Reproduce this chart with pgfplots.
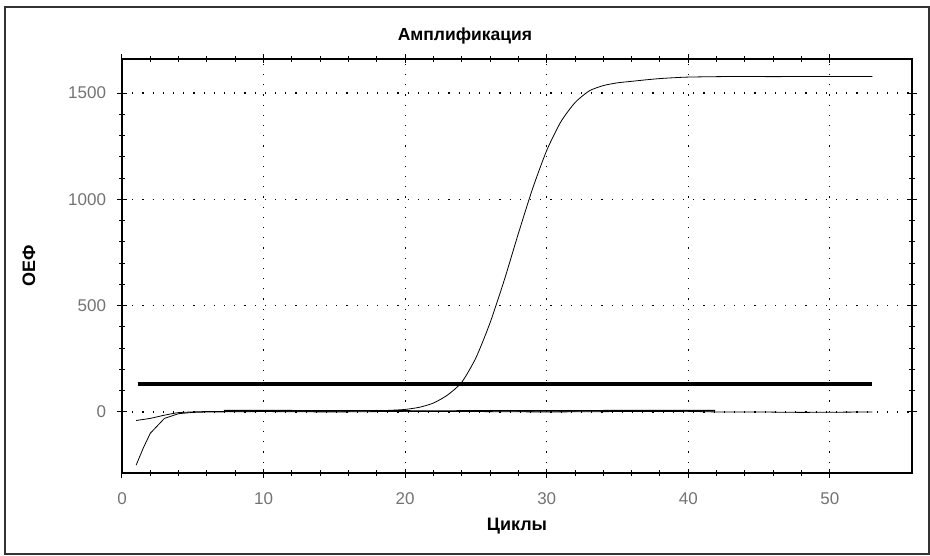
\documentclass[border=0pt]{standalone}
\usepackage{fontspec}
\setmainfont{Liberation Sans}
\usepackage{pgfplots}
\pgfplotsset{compat=1.18}
\begin{document}
\begin{tikzpicture}[x=1pt,y=1pt]
\useasboundingbox (0,0) rectangle (930,555);
\draw[line width=1.2pt, black!80] (5,1) rectangle (929,548);
\node[font=\fontsize{17.5}{20}\selectfont\bfseries] at (465,519) {Амплификация};
\begin{axis}[
  at={(122pt,82pt)}, anchor=south west,
  scale only axis, width=790pt, height=414pt,
  xmin=0, xmax=55.8, ymin=-287, ymax=1660,
  xtick={0,10,20,30,40,50},
  ytick={0,500,1000,1500},
  minor x tick num=4, minor y tick num=4,
  tick align=center,
  major tick length=9pt, minor tick length=6pt,
  tick style={black, line width=1pt},
  axis line style={line width=1.4pt},
  grid=major,
  major grid style={black, line width=1.1pt, dash pattern=on 1.2pt off 9pt},
  ticklabel style={font=\fontsize{17}{20}\selectfont, text=black!55},
  /pgf/number format/assume math mode=true,
  /pgf/number format/set thousands separator={},
  xticklabel style={yshift=-12pt},
  yticklabel style={xshift=-8pt},
  xlabel={Циклы},
  ylabel={ОЕФ},
  label style={font=\fontsize{18}{21}\selectfont\bfseries},
  xlabel style={yshift=-6pt},
  ylabel style={yshift=26pt},
]
% threshold
\addplot[black, line width=3.2pt] coordinates {(1.1,132) (53,132)};
% amplification curve
\addplot[black, line width=0.8pt, smooth, tension=0.4] coordinates {
(1,-40) (2,-30) (3,-15) (4,-3) (5,0) (6,2) (8,3) (10,4) (12,4) (14,3) (16,5) (18,6)
(19,8) (20,12) (21,22) (22,42) (23,80) (24,140) (25,255) (26,420) (27,620) (28,840)
(29,1050) (30,1230) (31,1365) (32,1455) (33,1510) (34,1535) (35,1548) (36,1555)
(37,1562) (38,1568) (39,1572) (40,1575) (42,1577) (44,1578) (46,1577) (48,1578)
(50,1578) (53,1578)};
% negative curve
\addplot[black, line width=0.8pt] coordinates {
(1,-250) (1.5,-170) (2,-100) (3,-30) (4,-8) (5,-2) (6,0) (10,2) (15,0) (20,3)
(25,2) (30,0) (35,2) (40,3) (42,0) (45,0) (48,-2) (53,0)};
% third curve
\addplot[black, line width=1.4pt] coordinates {
(7.2,6) (10,7) (14,5) (18,6) (22,4) (26,6) (30,5) (34,6) (38,7) (41.9,6)};
\end{axis}
\end{tikzpicture}
\end{document}
